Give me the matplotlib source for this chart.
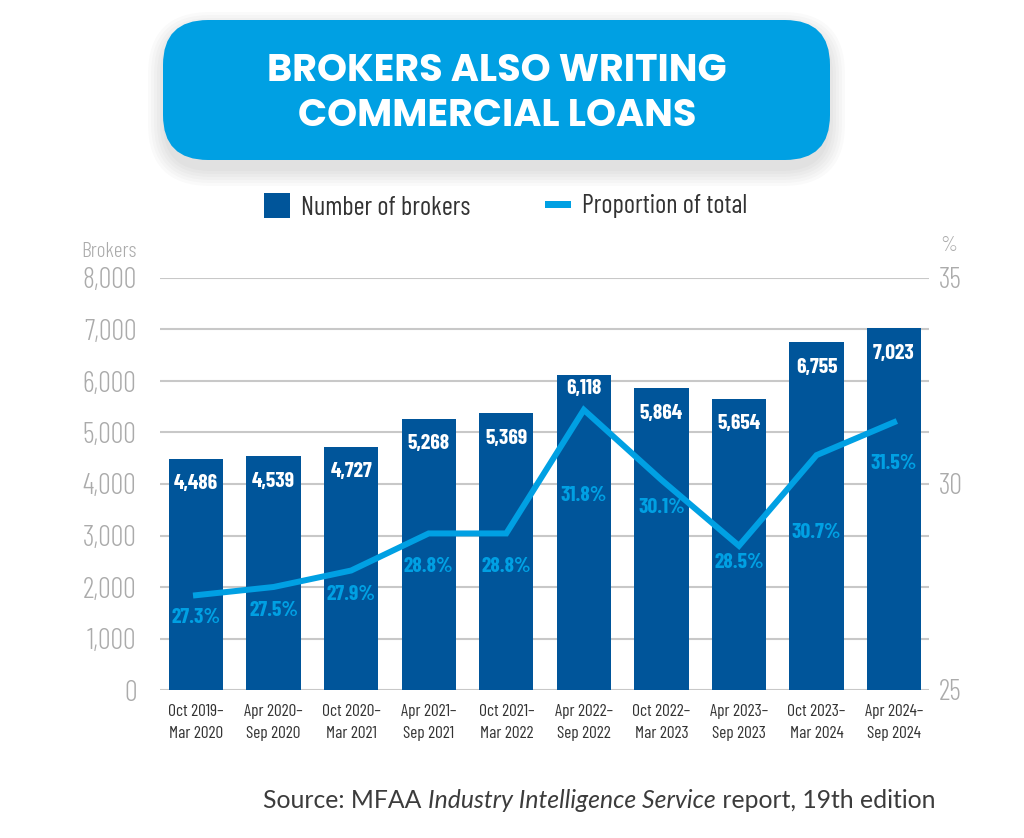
"""Brokers also writing commercial loans: bar count + proportion line on twin axes."""
import matplotlib
matplotlib.use("Agg")
import matplotlib.pyplot as plt
from matplotlib.patches import FancyBboxPatch, Rectangle

periods = ["Oct 2019–\nMar 2020", "Apr 2020–\nSep 2020", "Oct 2020–\nMar 2021",
           "Apr 2021–\nSep 2021", "Oct 2021–\nMar 2022", "Apr 2022–\nSep 2022",
           "Oct 2022–\nMar 2023", "Apr 2023–\nSep 2023", "Oct 2023–\nMar 2024",
           "Apr 2024–\nSep 2024"]
brokers = [4486, 4539, 4727, 5268, 5369, 6118, 5864, 5654, 6755, 7023]
proportion = [27.3, 27.5, 27.9, 28.8, 28.8, 31.8, 30.1, 28.5, 30.7, 31.5]
left_ticks = [0, 1000, 2000, 3000, 4000, 5000, 6000, 7000, 8000]
right_ticks = [25, 30, 35]

# label offsets below each line point / bar top, in points (style only)
pct_offsets = [-16, -17, -17, -24, -24, -62, -20, -12, -56, -30]
bar_offsets = [-18, -18, -18, -18, -18, -10, -18, -18, -18, -18]

BAR = "#00559a"
LINE = "#00a0e3"
GRID = "#c8c8c8"
TICK_GREY = "#ababab"
DARK = "#333333"
COND = ["Barlow Condensed", "DejaVu Sans"]
TITLE = ["Poppins", "Lato", "DejaVu Sans"]

W, H = 1024, 838
fig = plt.figure(figsize=(W / 100, H / 100), dpi=100)

# pixel-coordinate backdrop for title box, legend and axis captions
bg = fig.add_axes([0, 0, 1, 1], zorder=0)
bg.set_xlim(0, W)
bg.set_ylim(H, 0)
bg.axis("off")
for i in range(6):
    g = 2 + i * 3
    bg.add_patch(FancyBboxPatch((163 - g + 2, 20 - g + 9), 667 + 2 * g - 4, 140 + 2 * g,
                                boxstyle="round,pad=0,rounding_size=%d" % (45 + g),
                                fc="#000000", ec="none", alpha=0.02))
bg.add_patch(FancyBboxPatch((163, 20), 667, 140, boxstyle="round,pad=0,rounding_size=45",
                            fc=LINE, ec="none"))
bg.text(497, 94, "BROKERS ALSO WRITING\nCOMMERCIAL LOANS", ha="center", va="center",
        color="white", fontsize=27.5, fontweight="bold", family=TITLE, linespacing=1.18)

bg.add_patch(Rectangle((264, 193), 26, 25, fc=BAR, ec="none"))
bg.text(301, 208, "Number of brokers", ha="left", va="center", color=DARK, fontsize=19,
        family=COND)
bg.add_patch(Rectangle((545, 201), 26, 7, fc=LINE, ec="none"))
bg.text(582, 206, "Proportion of total", ha="left", va="center", color=DARK, fontsize=19,
        family=COND)
bg.text(137, 251, "Brokers", ha="right", va="center", color=TICK_GREY, fontsize=15.5,
        family=COND, fontweight=300)
bg.text(940, 245, "%", ha="left", va="center", color=TICK_GREY, fontsize=15.5,
        family=COND, fontweight=300)

ax = fig.add_axes([160 / W, 1 - 690 / H, (929 - 160) / W, (690 - 278) / H], zorder=2)
ax.set_facecolor("none")
x = list(range(len(periods)))
ax.bar(x, brokers, width=0.70, color=BAR, zorder=2)
ax.set_xlim(-0.464, 9.45)
ax.set_ylim(0, 8000)
ax.set_yticks(left_ticks, labels=[f"{v:,}" for v in left_ticks])
ax.set_xticks(x, labels=periods)
ax.tick_params(axis="y", length=0, pad=17, labelsize=20.5, labelcolor=TICK_GREY)
ax.tick_params(axis="x", length=0, pad=10, labelsize=12.5, labelcolor=DARK)
for lab in ax.get_yticklabels():
    lab.set_family(COND)
    lab.set_fontweight(300)
for lab in ax.get_xticklabels():
    lab.set_family(COND)
    lab.set_linespacing(1.6)
ax.grid(axis="y", color=GRID, lw=1.5, zorder=0)
for s in ax.spines.values():
    s.set_visible(False)

for xi, v, off in zip(x, brokers, bar_offsets):
    ax.annotate(f"{v:,}", (xi, v), xytext=(0, off), textcoords="offset points",
                ha="center", va="center", color="white", fontsize=15.5, fontweight="bold",
                family=COND, zorder=5)

ax2 = ax.twinx()
ax2.set_ylim(25, 35)
ax2.set_yticks(right_ticks)
ax2.tick_params(axis="y", length=0, pad=7, labelsize=20.5, labelcolor=TICK_GREY)
for lab in ax2.get_yticklabels():
    lab.set_family(COND)
    lab.set_fontweight(300)
for s in ax2.spines.values():
    s.set_visible(False)
ax2.plot(x, proportion, color=LINE, lw=4.3, solid_joinstyle="miter", zorder=3)
for xi, v, off in zip(x, proportion, pct_offsets):
    ax2.annotate(f"{v}%", (xi, v), xytext=(0, off), textcoords="offset points",
                 ha="center", va="center", color=LINE, fontsize=15.5, fontweight="bold",
                 family=COND, zorder=5)

# source line with italic middle part, right-aligned at x=935
parts = [("Source: MFAA ", "normal"), ("Industry Intelligence Service", "italic"),
         (" report, 19th edition", "normal")]
r = fig.canvas.get_renderer()
texts = [bg.text(0, 800, s, ha="left", va="center", color="#3c3c3c", fontsize=17.8,
                 family=["Lato", "DejaVu Sans"], style=st) for s, st in parts]
widths = [t.get_window_extent(r).width for t in texts]
xpos = 935 - sum(widths)
for t, w in zip(texts, widths):
    t.set_x(xpos)
    xpos += w

fig.savefig("out.png", dpi=100, facecolor="white")
